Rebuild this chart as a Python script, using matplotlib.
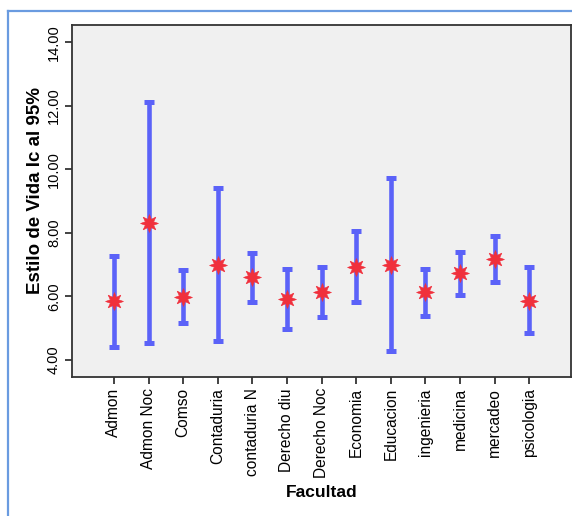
import matplotlib
matplotlib.use("Agg")
import matplotlib.pyplot as plt
from matplotlib.lines import Line2D
import numpy as np

plt.rcParams['font.family'] = ['Liberation Sans', 'DejaVu Sans']

# facultades y intervalos de confianza al 95%
facultades = ['Admon', 'Admon Noc', 'Comso', 'Contaduria', 'contaduria N',
              'Derecho diu', 'Derecho Noc', 'Economia', 'Educacion',
              'ingenieria', 'medicina', 'mercadeo', 'psicologia']
media = [5.85, 8.32, 5.99, 6.99, 6.60, 5.91, 6.13, 6.94, 6.98, 6.13, 6.73, 7.18, 5.87]
inferior = [4.40, 4.52, 5.15, 4.59, 5.84, 4.97, 5.34, 5.83, 4.27, 5.38, 6.06, 6.46, 4.84]
superior = [7.27, 12.12, 6.82, 9.40, 7.37, 6.85, 6.92, 8.05, 9.72, 6.87, 7.41, 7.91, 6.92]
y_ticks = [4, 6, 8, 10, 12, 14]

fig = plt.figure(figsize=(5.72, 5.16), dpi=100, facecolor='white')
ax = fig.add_axes([0.1259, 0.2694, 0.8721, 0.6831])
ax.set_facecolor('#f0f0f0')

x = np.arange(len(facultades))
media = np.array(media)
err = [media - np.array(inferior), np.array(superior) - media]
ax.errorbar(x, media, yerr=err, fmt='none', ecolor='#5b62f8',
            elinewidth=3.3, capsize=3.4, capthick=3.6, zorder=2)
ax.plot(x, media, linestyle='none', marker=(8, 1, 0), markersize=13,
        color='#f0303c', markeredgecolor='#f0303c', markeredgewidth=0.4, zorder=3)

ax.set_xlim(-1.21, 13.2)
ax.set_ylim(3.465, 14.56)
ax.set_yticks(y_ticks)
ax.set_yticklabels(['%.2f' % v for v in y_ticks], rotation=90, va='center', fontsize=10.5)
ax.set_xticks(x)
ax.set_xticklabels(facultades, rotation=90, fontsize=11.2)
ax.tick_params(axis='both', direction='out', length=5, width=1.2, color='#222222', pad=3)

for s in ax.spines.values():
    s.set_color('#333333')
    s.set_linewidth(1.3)

ax.set_ylabel('Estilo de Vida Ic al 95%', fontsize=13.5, fontweight='bold', va='center')
ax.yaxis.set_label_coords(-0.073, 0.53)
ax.set_xlabel('Facultad', fontsize=12.5, fontweight='bold', labelpad=5)

# marco azul exterior
fig.add_artist(Line2D([7.5 / 572, 7.5 / 572], [0, 1 - 10.5 / 516],
                      transform=fig.transFigure, color='#6a9be0', lw=1.6))
fig.add_artist(Line2D([7.5 / 572, 1], [1 - 10.5 / 516, 1 - 10.5 / 516],
                      transform=fig.transFigure, color='#6a9be0', lw=1.6))

fig.savefig('out.png', dpi=100)
